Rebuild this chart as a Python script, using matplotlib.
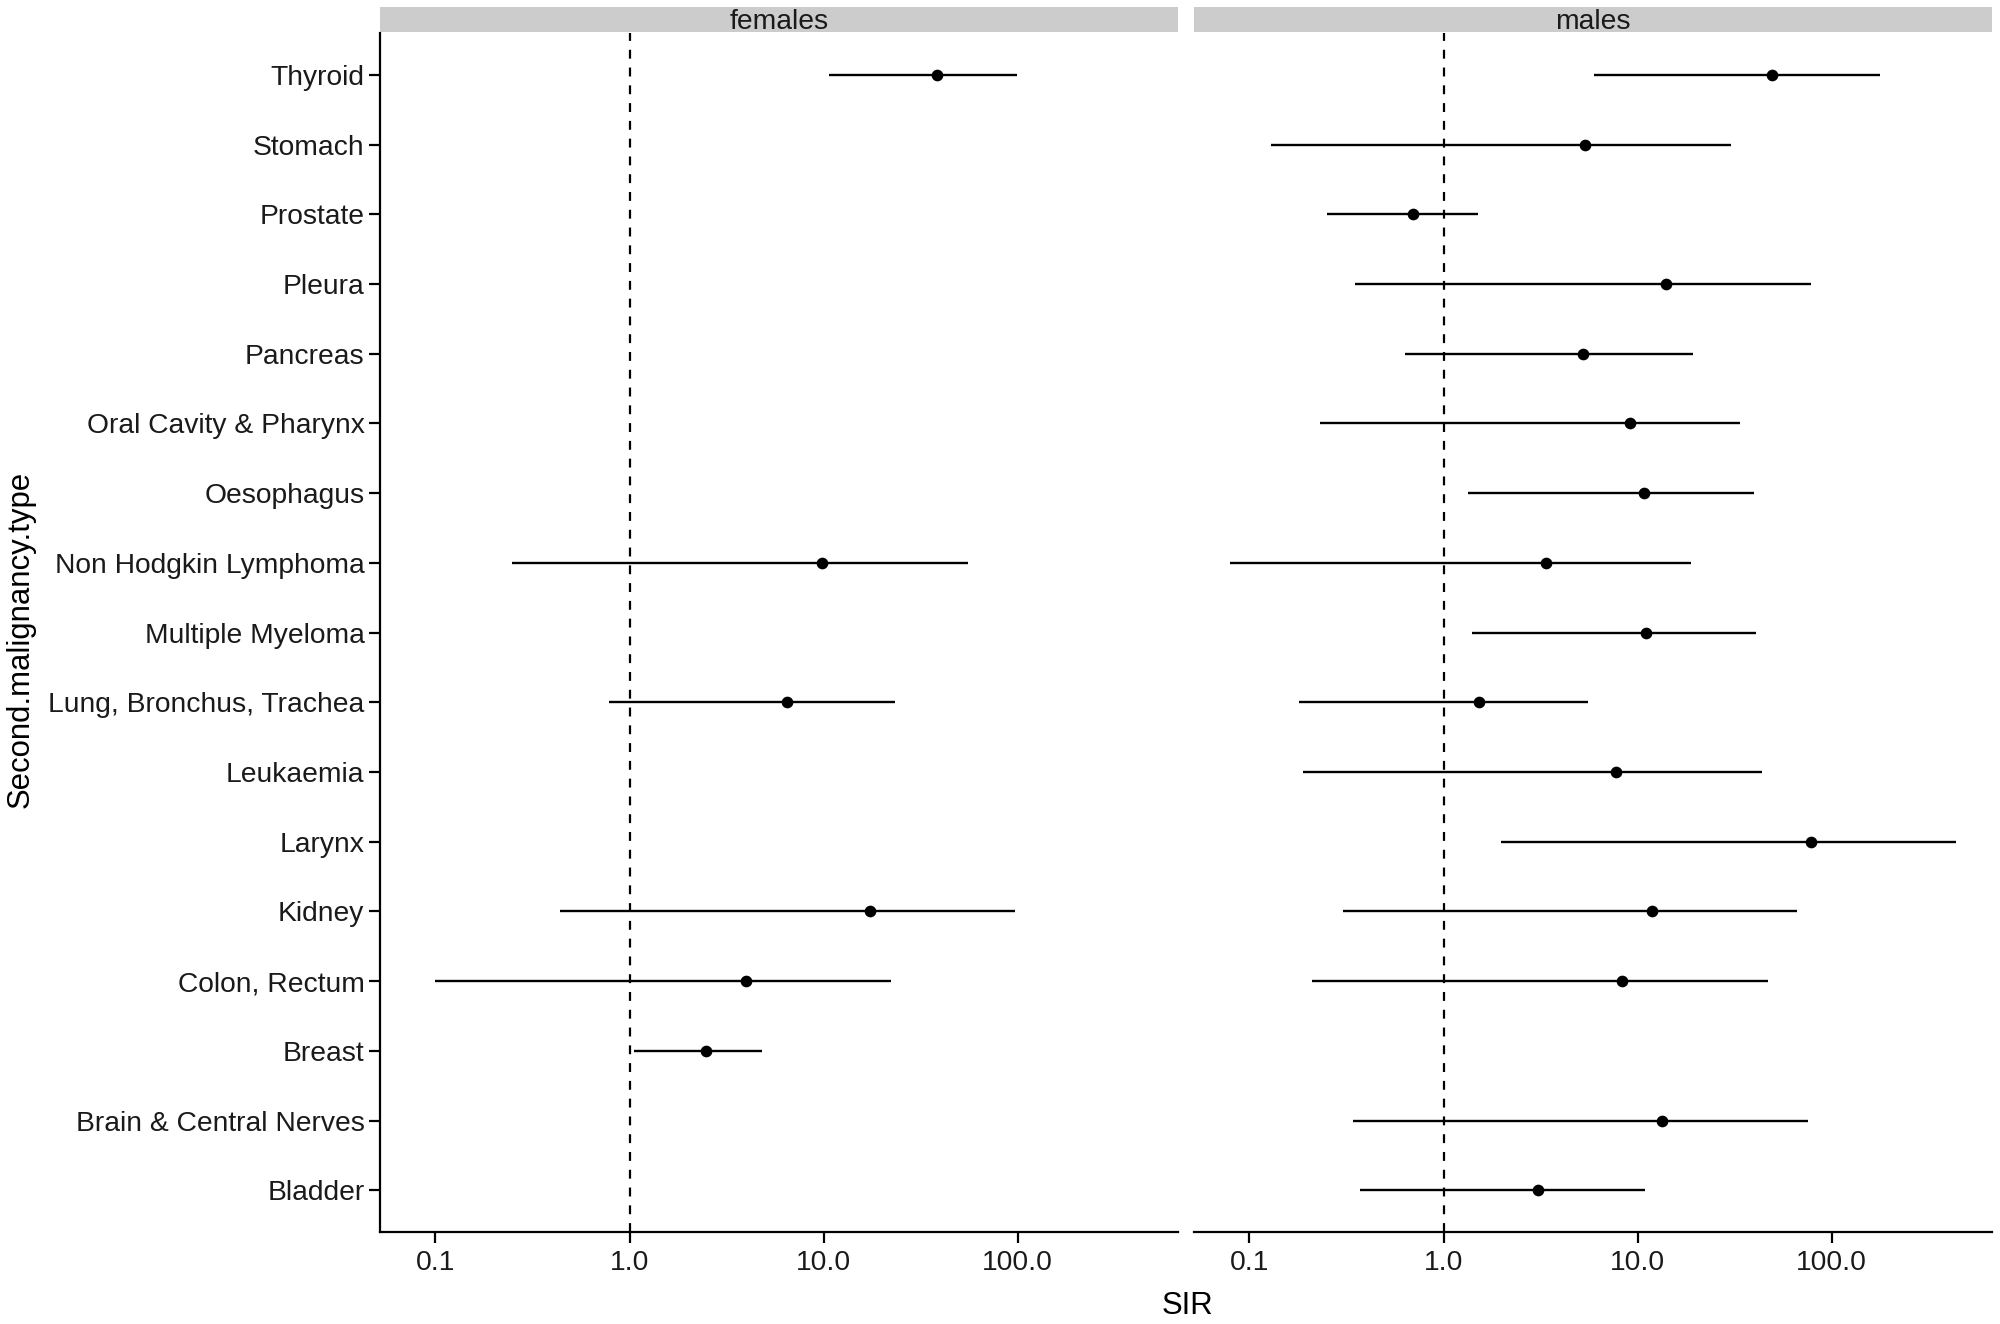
import numpy as np
import matplotlib
matplotlib.use("Agg")
import matplotlib.pyplot as plt

plt.rcParams['font.family'] = ['Liberation Sans', 'DejaVu Sans']

categories = ["Bladder", "Brain & Central Nerves", "Breast", "Colon, Rectum", "Kidney",
              "Larynx", "Leukaemia", "Lung, Bronchus, Trachea", "Multiple Myeloma",
              "Non Hodgkin Lymphoma", "Oesophagus", "Oral Cavity & Pharynx", "Pancreas",
              "Pleura", "Prostate", "Stomach", "Thyroid"]

# females
f_cats = ["Thyroid", "Non Hodgkin Lymphoma", "Lung, Bronchus, Trachea", "Kidney",
          "Colon, Rectum", "Breast"]
f_sir = [38.5, 9.85, 6.44, 17.3, 3.97, 2.48]
f_low = [10.6, 0.248, 0.785, 0.44, 0.100, 1.06]
f_high = [98.5, 55.4, 23.4, 97.0, 22.3, 4.83]

# males
m_cats = ["Thyroid", "Stomach", "Prostate", "Pleura", "Pancreas", "Oral Cavity & Pharynx",
          "Oesophagus", "Non Hodgkin Lymphoma", "Multiple Myeloma", "Lung, Bronchus, Trachea",
          "Leukaemia", "Larynx", "Kidney", "Colon, Rectum", "Brain & Central Nerves", "Bladder"]
m_sir = [49.0, 5.37, 0.695, 13.95, 5.21, 9.14, 10.8, 3.36, 11.1, 1.53, 7.73, 78.5, 11.8, 8.34, 13.3, 3.07]
m_low = [5.97, 0.129, 0.252, 0.351, 0.635, 0.230, 1.33, 0.0797, 1.40, 0.181, 0.189, 1.98, 0.302, 0.210, 0.341, 0.373]
m_high = [178, 30.2, 1.51, 78.5, 19.2, 33.6, 39.7, 18.9, 40.9, 5.54, 43.5, 435, 66.4, 46.9, 75.0, 10.9]

panels = ["females", "males"]
xticks = [0.1, 1.0, 10.0, 100.0]
xticklabels = ["0.1", "1.0", "10.0", "100.0"]

fig = plt.figure(figsize=(10, 6.62), dpi=200)

all_vals = np.log10(np.array(f_low + f_high + m_low + m_high + f_sir + m_sir))
lo, hi = all_vals.min(), all_vals.max()
pad = 0.05 * (hi - lo)
xlim = (10 ** (lo - pad), 10 ** (hi + pad))
ylim = (-0.6, len(categories) - 1 + 0.6)

y_index = {c: i for i, c in enumerate(categories)}

left_pos = [0.190, 0.0694, 0.399, 0.9056]
right_pos = [0.597, 0.0694, 0.399, 0.9056]

data = [(f_cats, f_sir, f_low, f_high), (m_cats, m_sir, m_low, m_high)]

for k, (pos, name, (cats, sir, low, high)) in enumerate(zip([left_pos, right_pos], panels, data)):
    ax = fig.add_axes(pos)
    ax.set_xscale('log')
    ax.set_xlim(*xlim)
    ax.set_ylim(*ylim)
    ys = [y_index[c] for c in cats]
    ax.axvline(1.0, color='black', linestyle=(0, (4, 4)), linewidth=0.8, zorder=1)
    ax.hlines(ys, low, high, color='black', linewidth=0.85, zorder=2)
    ax.plot(sir, ys, 'o', color='black', markersize=3.2, zorder=3)
    ax.set_xticks(xticks)
    ax.set_xticklabels(xticklabels)
    ax.xaxis.set_minor_locator(matplotlib.ticker.NullLocator())
    for s in ['top', 'right']:
        ax.spines[s].set_visible(False)
    ax.spines['bottom'].set_linewidth(0.8)
    ax.spines['left'].set_linewidth(0.8)
    ax.tick_params(axis='both', length=4, width=0.8, color='black', labelsize=10.2,
                   labelcolor='#1a1a1a', pad=2.5)
    ax.tick_params(axis='y', pad=1.6)
    ax.set_yticks(range(len(categories)))
    if k == 0:
        ax.set_yticklabels(categories)
    else:
        ax.spines['left'].set_visible(False)
        ax.set_yticks([])
    # strip
    sax = fig.add_axes([pos[0], 0.976, pos[2], 0.019])
    sax.set_facecolor('#cccccc')
    sax.set_xticks([]); sax.set_yticks([])
    for s in sax.spines.values():
        s.set_visible(False)
    sax.text(0.5, 0.38, name, ha='center', va='center', fontsize=10.2, color='#1a1a1a',
             transform=sax.transAxes)

fig.text(0.0105, 0.517, "Second.malignancy.type", rotation=90, ha='center', va='center',
         fontsize=11.2)
fig.text(0.5935, 0.0135, "SIR", ha='center', va='center', fontsize=11.2)

fig.savefig("out.png", dpi=200, facecolor='white')
